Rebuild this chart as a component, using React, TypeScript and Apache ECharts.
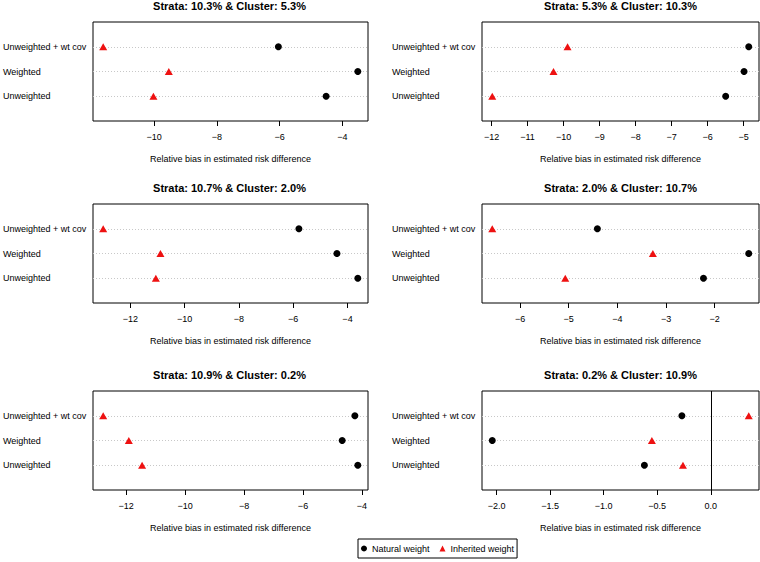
import React, { useEffect, useRef } from "react";
import * as echarts from "echarts";

// Row categories, bottom to top
const rowLabels = ["Unweighted", "Weighted", "Unweighted + wt cov"];

const panelTitles = [
  "Strata: 10.3% & Cluster: 5.3%",
  "Strata: 5.3% & Cluster: 10.3%",
  "Strata: 10.7% & Cluster: 2.0%",
  "Strata: 2.0% & Cluster: 10.7%",
  "Strata: 10.9% & Cluster: 0.2%",
  "Strata: 0.2% & Cluster: 10.9%",
];

// Values ordered as rowLabels: [Unweighted, Weighted, Unweighted + wt cov]
const naturalP1 = [-4.52, -3.51, -6.04];
const inheritedP1 = [-10.02, -9.53, -11.62];
const naturalP2 = [-5.5, -4.99, -4.86];
const inheritedP2 = [-11.98, -10.28, -9.89];
const naturalP3 = [-3.62, -4.39, -5.79];
const inheritedP3 = [-11.06, -10.89, -13.0];
const naturalP4 = [-2.23, -1.3, -4.41];
const inheritedP4 = [-5.07, -3.27, -6.57];
const naturalP5 = [-4.14, -4.67, -4.24];
const inheritedP5 = [-11.46, -11.91, -12.78];
const naturalP6 = [-0.62, -2.04, -0.27];
const inheritedP6 = [-0.26, -0.55, 0.354];

const ticksP1 = [-10, -8, -6, -4];
const ticksP2 = [-12, -11, -10, -9, -8, -7, -6, -5];
const ticksP3 = [-12, -10, -8, -6, -4];
const ticksP4 = [-6, -5, -4, -3, -2];
const ticksP5 = [-12, -10, -8, -6, -4];
const ticksP6 = [-2.0, -1.5, -1.0, -0.5, 0.0];

const naturalAll = [naturalP1, naturalP2, naturalP3, naturalP4, naturalP5, naturalP6];
const inheritedAll = [inheritedP1, inheritedP2, inheritedP3, inheritedP4, inheritedP5, inheritedP6];
const ticksAll = [ticksP1, ticksP2, ticksP3, ticksP4, ticksP5, ticksP6];
const decimals = [0, 0, 0, 0, 0, 1];
const zeroLine = [false, false, false, false, false, true];

const FONT = "'Liberation Sans', Arial, Helvetica, sans-serif";
const RED = "#ee1111";

export default function App() {
  const ref = useRef<HTMLDivElement>(null);

  useEffect(() => {
    if (!ref.current) return;
    const chart = echarts.init(ref.current, undefined, { renderer: "svg" });

    const colLeft = [91, 482];
    const boxW = 277;
    const rowTop = [22, 204, 391];
    const boxH = 99;

    const grids: any[] = [];
    const xAxes: any[] = [];
    const yAxes: any[] = [];
    const series: any[] = [];
    const graphics: any[] = [];

    for (let p = 0; p < 6; p++) {
      const col = p % 2;
      const row = Math.floor(p / 2);
      const nat = naturalAll[p];
      const inh = inheritedAll[p];
      const all = nat.concat(inh);
      const lo = Math.min(...all);
      const hi = Math.max(...all);
      const pad = (hi - lo) * 0.04;

      grids.push({
        left: colLeft[col],
        top: rowTop[row],
        width: boxW,
        height: boxH,
        show: true,
        borderColor: "#000",
        borderWidth: 1,
        backgroundColor: "transparent",
        containLabel: false,
      });

      const dec = decimals[p];
      xAxes.push({
        type: "value",
        gridIndex: p,
        min: lo - pad,
        max: hi + pad,
        axisLine: { show: false },
        splitLine: { show: false },
        axisTick: {
          show: true,
          length: 5,
          customValues: ticksAll[p],
          lineStyle: { color: "#000", width: 1 },
        },
        axisLabel: {
          customValues: ticksAll[p],
          fontSize: 9,
          color: "#000",
          fontFamily: FONT,
          margin: 11,
          formatter: (v: number) => {
            const s = Math.abs(v).toFixed(dec);
            return v < -1e-9 ? "\u2212" + s : s;
          },
        },
        name: "Relative bias in estimated risk difference",
        nameLocation: "middle",
        nameGap: 33,
        nameTextStyle: { fontSize: 9, color: "#000", fontFamily: FONT },
      });

      yAxes.push({
        type: "value",
        gridIndex: p,
        min: 0,
        max: 4,
        interval: 1,
        axisLine: { show: false },
        axisTick: { show: false },
        splitLine: {
          show: true,
          showMinLine: false,
          showMaxLine: false,
          lineStyle: { color: "#c8c8c8", type: [1, 2], width: 1 },
        },
        axisLabel: {
          align: "left",
          margin: 90,
          fontSize: 9,
          color: "#000",
          fontFamily: FONT,
          formatter: (v: number) => (v >= 1 && v <= 3 ? rowLabels[v - 1] : ""),
        },
      });

      const natSeries: any = {
        type: "scatter",
        name: "Natural weight",
        xAxisIndex: p,
        yAxisIndex: p,
        symbol: "circle",
        symbolSize: 7,
        itemStyle: { color: "#000", opacity: 1 },
        emphasis: { disabled: true },
        data: nat.map((v, i) => [v, i + 1]),
        z: 3,
      };
      if (zeroLine[p]) {
        natSeries.markLine = {
          silent: true,
          symbol: ["none", "none"],
          label: { show: false },
          lineStyle: { color: "#000", type: "solid", width: 1, opacity: 1 },
          data: [{ xAxis: 0 }],
        };
      }
      series.push(natSeries);
      series.push({
        type: "scatter",
        name: "Inherited weight",
        xAxisIndex: p,
        yAxisIndex: p,
        symbol: "triangle",
        symbolSize: [8, 7],
        itemStyle: { color: RED, opacity: 1 },
        emphasis: { disabled: true },
        data: inh.map((v, i) => [v, i + 1]),
        z: 3,
      });

      graphics.push({
        type: "text",
        x: colLeft[col] + boxW / 2,
        y: rowTop[row] - 16,
        style: {
          text: panelTitles[p],
          textAlign: "center",
          textVerticalAlign: "middle",
          fontSize: 11,
          fontWeight: "bold",
          fontFamily: FONT,
          fill: "#000",
        },
      });
    }

    chart.setOption({
      animation: false,
      backgroundColor: "#fff",
      textStyle: { fontFamily: FONT },
      grid: grids,
      xAxis: xAxes,
      yAxis: yAxes,
      series,
      graphic: graphics,
      legend: {
        data: ["Natural weight", "Inherited weight"],
        left: 358,
        top: 539,
        orient: "horizontal",
        selectedMode: false,
        borderColor: "#000",
        borderWidth: 1,
        borderRadius: 0,
        padding: [5, 3, 5, 3],
        itemWidth: 6,
        itemHeight: 6,
        itemGap: 10,
        itemStyle: { opacity: 1 },
        textStyle: { fontSize: 9, color: "#000", fontFamily: FONT },
      },
    });

    return () => chart.dispose();
  }, []);

  return (
    <div
      ref={ref}
      style={{ position: "absolute", left: 0, top: 0, width: 760, height: 562 }}
    />
  );
}
